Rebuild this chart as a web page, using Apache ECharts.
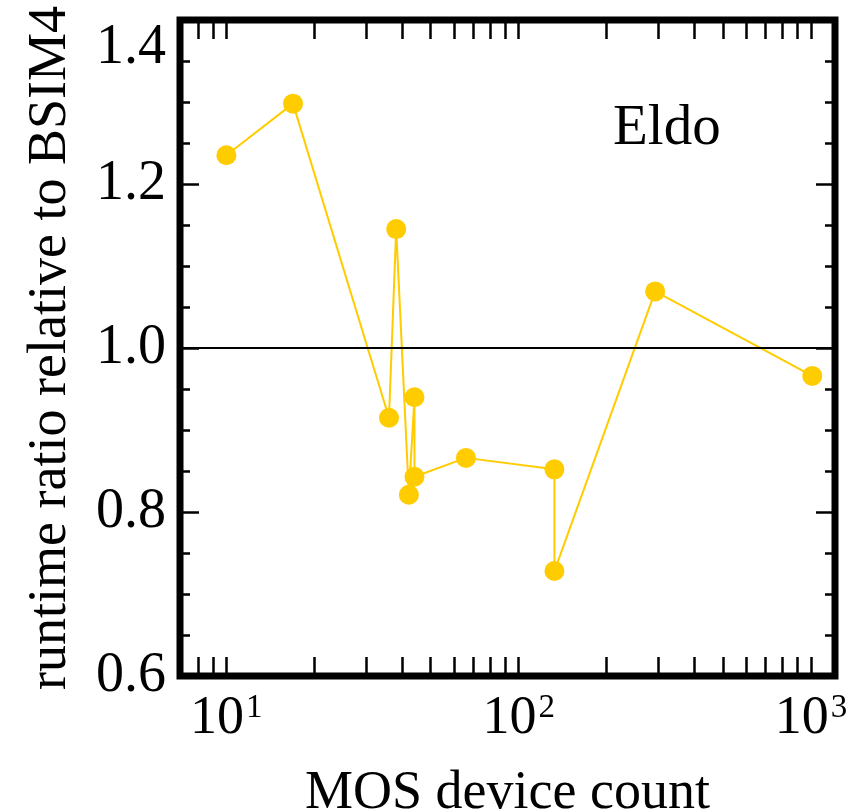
<!DOCTYPE html>
<html>
<head>
<meta charset="UTF-8">
<title>Eldo runtime ratio</title>
<script src="https://cdn.jsdelivr.net/npm/echarts@6.0.0/dist/echarts.min.js"></script>
<style>
  html, body { margin: 0; padding: 0; background: #fff; }
  #chart { width: 857px; height: 811px; }
</style>
</head>
<body>
<div id="chart"></div>
<script>
  // MOS device count of each test circuit
  const deviceCount = [10, 16.9, 36, 38.1, 42.1, 44, 44, 66, 132.5, 132.5, 293, 1010];
  // runtime ratio relative to BSIM4
  const runtimeRatio = [1.235, 1.298, 0.915, 1.145, 0.821, 0.940, 0.843, 0.866, 0.852, 0.728, 1.069, 0.966];
  // log axis ticks
  const xLabelTicks = [10, 100, 1000];
  const xAllTicks = [8, 9, 10, 20, 30, 40, 50, 60, 70, 80, 90, 100, 200, 300, 400, 500, 600, 700, 800, 900, 1000];
  const refLine = 1.0;

  const serif = 'Liberation Serif';
  const gold = '#FFCC00';

  const chart = echarts.init(document.getElementById('chart'));

  function xAxisCfg(pos, showLabel) {
    return {
      type: 'log',
      logBase: 10,
      position: pos,
      min: 6.94,
      max: 1208,
      name: showLabel ? 'MOS device count' : '',
      nameLocation: 'middle',
      nameGap: 91,
      nameTextStyle: { fontFamily: serif, fontSize: 54, color: '#000' },
      axisLine: { show: false },
      splitLine: { show: false },
      axisTick: {
        show: true, inside: true, length: 19,
        customValues: xAllTicks,
        lineStyle: { color: '#000', width: 2.5 }
      },
      axisLabel: {
        show: showLabel,
        customValues: xLabelTicks,
        margin: 16,
        formatter: function (v) {
          return '{b|10}{s|' + Math.round(Math.log10(v)) + '}';
        },
        rich: {
          b: { fontFamily: serif, fontSize: 54, color: '#000' },
          s: { fontFamily: serif, fontSize: 33, color: '#000', verticalAlign: 'top', padding: [0, 0, 0, 2] }
        }
      }
    };
  }

  function yAxisCfg(pos, showLabel) {
    return {
      type: 'value',
      position: pos,
      min: 0.6,
      max: 1.4,
      interval: 0.2,
      name: showLabel ? 'runtime ratio relative to BSIM4' : '',
      nameLocation: 'middle',
      nameRotate: 90,
      nameGap: 102,
      nameTextStyle: { fontFamily: serif, fontSize: 54, color: '#000' },
      axisLine: { show: false },
      splitLine: { show: false },
      axisTick: { show: true, inside: true, length: 19, lineStyle: { color: '#000', width: 2.5 } },
      minorTick: { show: true, splitNumber: 4, length: 10, lineStyle: { color: '#000', width: 2.5 } },
      minorSplitLine: { show: false },
      axisLabel: {
        show: showLabel,
        margin: 14,
        fontFamily: serif,
        fontSize: 56,
        color: '#000',
        verticalAlignMaxLabel: 'top',
        formatter: function (v) { return v.toFixed(1); }
      }
    };
  }

  const option = {
    animation: false,
    backgroundColor: '#fff',
    grid: {
      left: 180, right: 22, top: 20, bottom: 135,
      containLabel: false,
      outerBoundsMode: 'none',
      show: true, borderColor: '#000', borderWidth: 7, backgroundColor: 'transparent'
    },
    xAxis: [xAxisCfg('bottom', true), xAxisCfg('top', false)],
    yAxis: [yAxisCfg('left', true), yAxisCfg('right', false)],
    graphic: [{
      type: 'text',
      left: 613,
      top: 101,
      style: { text: 'Eldo', fontFamily: serif, fontSize: 57, fill: '#000' }
    }],
    series: [{
      type: 'line',
      data: deviceCount.map((x, i) => [x, runtimeRatio[i]]),
      symbol: 'circle',
      symbolSize: 20,
      lineStyle: { color: gold, width: 2 },
      itemStyle: { color: gold },
      markLine: {
        silent: true,
        symbol: 'none',
        label: { show: false },
        lineStyle: { color: '#000', width: 2, type: 'solid' },
        data: [{ yAxis: refLine }]
      }
    }]
  };

  chart.setOption(option);
</script>
</body>
</html>
